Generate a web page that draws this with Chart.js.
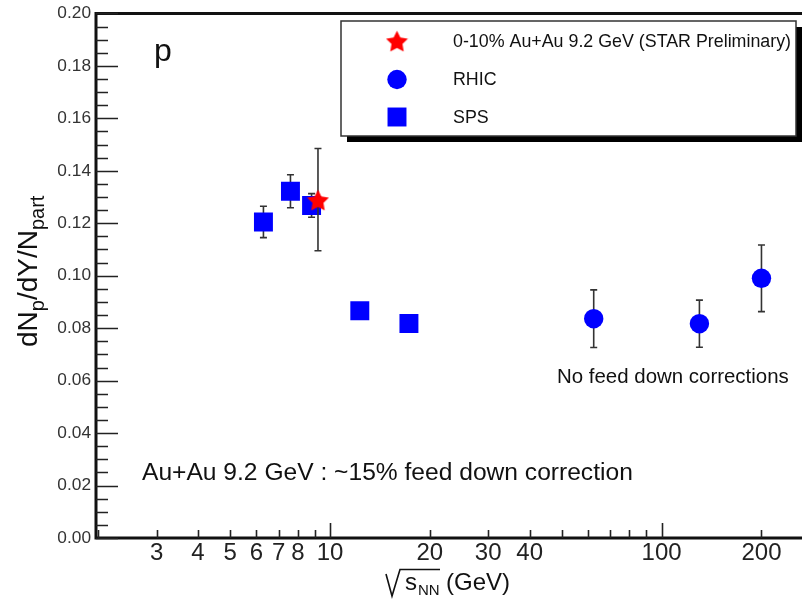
<!DOCTYPE html>
<html><head><meta charset="utf-8">
<script src="https://cdn.jsdelivr.net/npm/chart.js@4/dist/chart.umd.min.js"></script>
<style>html,body{margin:0;padding:0;background:#fff;overflow:hidden}canvas{display:block}</style>
</head><body><canvas id="c" width="802" height="600"></canvas>
<script>
// ---- data ----
const starX = [9.2];
const starY = [0.129];
const starErr = [0.0195];
const rhicX = [62.4, 130, 200];
const rhicY = [0.0836, 0.0817, 0.099];
const rhicErr = [0.011, 0.009, 0.0127];
const spsX = [6.3, 7.6, 8.8, 12.3, 17.3];
const spsY = [0.1205, 0.1322, 0.1268, 0.0866, 0.0818];
const spsErr = [0.006, 0.0063, 0.0045, 0.003, 0.003];
const xTickLabels = [3, 4, 5, 6, 7, 8, 10, 20, 30, 40, 100, 200];
const xMinorTicks = [2, 3, 4, 5, 6, 7, 8, 9, 20, 30, 40, 50, 60, 70, 80, 90, 200];
const xMajorTicks = [10, 100];
const yTickLabels = [0, 0.02, 0.04, 0.06, 0.08, 0.10, 0.12, 0.14, 0.16, 0.18, 0.20];
const legendLabels = ["0-10% Au+Au 9.2 GeV (STAR Preliminary)", "RHIC", "SPS"];
const noteMain = "Au+Au 9.2 GeV : ~15% feed down correction";
const noteRhic = "No feed down corrections";
const particleLabel = "p";

const FONT = "'Liberation Sans', Arial, Helvetica, sans-serif";

function makeStar(size, color) {
  const c = document.createElement('canvas');
  c.width = size; c.height = size;
  const g = c.getContext('2d');
  const cx = size / 2, cy = size / 2 + 1.5, R = size / 2, r = R * 0.5;
  g.beginPath();
  for (let i = 0; i < 10; i++) {
    const a = -Math.PI / 2 + i * Math.PI / 5;
    const rr = (i % 2) ? r : R;
    g.lineTo(cx + rr * Math.cos(a), cy + rr * Math.sin(a));
  }
  g.closePath();
  g.fillStyle = color; g.fill();
  return c;
}
const starImg = makeStar(23, '#ff0000');

const toPts = (xs, ys) => xs.map((x, i) => ({x: x, y: ys[i]}));
const errs = [starErr, rhicErr, spsErr];

function fitFont(ctx, text, width, base) {
  ctx.font = base + 'px ' + FONT;
  const w = ctx.measureText(text).width;
  const size = base * width / w;
  ctx.font = size.toFixed(2) + 'px ' + FONT;
}

const areaFix = {
  id: 'areaFix',
  afterLayout(chart) {
    const a = chart.chartArea;
    a.right = chart.width; a.width = a.right - a.left;
    const x = chart.scales.x;
    x.right = chart.width; x.width = x.right - x.left;
    x.configure();
  }
};

const errPlugin = {
  id: 'errbars',
  beforeDatasetDraw(chart, args) {
    const ds = chart.data.datasets[args.index];
    const e = errs[args.index];
    const xs = chart.scales.x, ys = chart.scales.y;
    const ctx = chart.ctx;
    ctx.save();
    ctx.strokeStyle = '#333';
    ctx.lineWidth = 1.6;
    ds.data.forEach((p, i) => {
      const px = xs.getPixelForValue(p.x);
      const y1 = ys.getPixelForValue(p.y + e[i]);
      const y2 = ys.getPixelForValue(p.y - e[i]);
      ctx.beginPath();
      ctx.moveTo(px, y1); ctx.lineTo(px, y2);
      ctx.moveTo(px - 3.5, y1); ctx.lineTo(px + 3.5, y1);
      ctx.moveTo(px - 3.5, y2); ctx.lineTo(px + 3.5, y2);
      ctx.stroke();
    });
    ctx.restore();
  }
};

const decorPlugin = {
  id: 'decor',
  afterDraw(chart) {
    const ctx = chart.ctx;
    const a = chart.chartArea;
    const xs = chart.scales.x, ys = chart.scales.y;
    ctx.save();
    // frame
    ctx.strokeStyle = '#111';
    ctx.lineWidth = 3;
    ctx.beginPath();
    ctx.moveTo(a.left, a.top); ctx.lineTo(a.right, a.top);
    ctx.moveTo(a.left, a.top - 1.5); ctx.lineTo(a.left, a.bottom + 1.5);
    ctx.moveTo(a.left, a.bottom); ctx.lineTo(a.right, a.bottom);
    ctx.stroke();
    // y tick marks
    ctx.lineWidth = 1.6;
    ctx.strokeStyle = '#222';
    ctx.beginPath();
    for (let k = 0; k <= 40; k++) {
      const v = k * 0.005;
      const py = Math.round(ys.getPixelForValue(v)) + 0.5;
      const len = (k % 4 === 0) ? 22 : 12;
      ctx.moveTo(a.left, py); ctx.lineTo(a.left + len, py);
    }
    // x tick marks
    xMinorTicks.forEach(v => {
      const px = Math.round(xs.getPixelForValue(v)) + 0.5;
      if (px > a.left + 2 && px < a.right) { ctx.moveTo(px, a.bottom); ctx.lineTo(px, a.bottom - 8); }
    });
    xMajorTicks.forEach(v => {
      const px = Math.round(xs.getPixelForValue(v)) + 0.5;
      ctx.moveTo(px, a.bottom); ctx.lineTo(px, a.bottom - 15);
    });
    ctx.stroke();

    // legend box
    ctx.fillStyle = '#000';
    ctx.fillRect(347, 27, 455, 115);
    ctx.fillStyle = '#fff';
    ctx.fillRect(341, 21, 455, 115);
    ctx.strokeStyle = '#333';
    ctx.lineWidth = 1.5;
    ctx.strokeRect(341, 21, 455, 115);
    const rows = [40.7, 79.5, 117];
    const dsets = chart.data.datasets;
    dsets.forEach((d, i) => {
      if (d.pointStyle === 'circle' || d.pointStyle === 'rect') {
        ctx.fillStyle = d.backgroundColor;
        ctx.beginPath();
        if (d.pointStyle === 'circle') ctx.arc(397, rows[i], d.pointRadius, 0, Math.PI * 2);
        else { const s = d.pointRadius * Math.SQRT1_2; ctx.rect(397 - s, rows[i] - s, 2 * s, 2 * s); }
        ctx.fill();
      } else {
        Chart.helpers.drawPoint(ctx, { pointStyle: d.pointStyle, radius: d.pointRadius, rotation: 0, borderWidth: 0 }, 397, rows[i]);
      }
    });
    ctx.fillStyle = '#111';
    ctx.textBaseline = 'middle';
    ctx.textAlign = 'left';
    fitFont(ctx, legendLabels[0], 338, 18);
    legendLabels.forEach((t, i) => ctx.fillText(t, 453, rows[i] + 1));

    // annotations
    ctx.font = '32px ' + FONT;
    ctx.fillText(particleLabel, 154, 52);
    fitFont(ctx, noteMain, 491, 24);
    ctx.fillText(noteMain, 142, 473);
    fitFont(ctx, noteRhic, 232, 20);
    ctx.fillText(noteRhic, 557, 377);

    // y title
    ctx.save();
    ctx.translate(37, 347);
    ctx.rotate(-Math.PI / 2);
    ctx.textBaseline = 'alphabetic';
    let x = 0;
    const big = '28px ' + FONT, sub = '20px ' + FONT;
    const parts = [['dN', big, 0], ['p', sub, 7], ['/dY/N', big, 0], ['part', sub, 7]];
    parts.forEach(p => { ctx.font = p[1]; ctx.fillText(p[0], x, p[2]); x += ctx.measureText(p[0]).width; });
    ctx.restore();

    // x title
    ctx.textBaseline = 'alphabetic';
    ctx.font = '24px ' + FONT;
    ctx.fillText('s', 405, 590);
    ctx.font = '15px ' + FONT;
    ctx.fillText('NN', 418, 595);
    ctx.font = '24px ' + FONT;
    ctx.fillText('(GeV)', 446, 590);
    ctx.strokeStyle = '#111';
    ctx.lineWidth = 1.6;
    ctx.beginPath();
    ctx.moveTo(386, 574);
    ctx.lineTo(392, 596);
    ctx.lineTo(400, 569.5);
    ctx.lineTo(440, 569.5);
    ctx.stroke();
    ctx.restore();
  }
};

new Chart(document.getElementById('c'), {
  type: 'scatter',
  data: {
    datasets: [
      { label: legendLabels[0], data: toPts(starX, starY), pointStyle: starImg, pointRadius: 11,
        backgroundColor: '#ff0000', borderWidth: 0 },
      { label: legendLabels[1], data: toPts(rhicX, rhicY), pointStyle: 'circle', pointRadius: 9.7,
        backgroundColor: '#0000ff', borderColor: '#0000ff', borderWidth: 0 },
      { label: legendLabels[2], data: toPts(spsX, spsY), pointStyle: 'rect', pointRadius: 13.4,
        backgroundColor: '#0000ff', borderColor: '#0000ff', borderWidth: 0 }
    ]
  },
  options: {
    responsive: false,
    animation: false,
    devicePixelRatio: 1,
    layout: { padding: { top: 11, left: 0, right: 0, bottom: 0 } },
    plugins: { legend: { display: false }, tooltip: { enabled: false } },
    scales: {
      x: {
        type: 'logarithmic', min: 1.97, max: 265,
        grid: { display: false, drawTicks: false },
        border: { display: false },
        afterFit(s) { s.height = 62; s.paddingLeft = 0; s.paddingRight = 0; },
        afterBuildTicks(s) { s.ticks = xTickLabels.map(v => ({ value: v })); },
        ticks: {
          autoSkip: false, maxRotation: 0, minRotation: 0, padding: 1,
          color: '#222', font: { family: FONT, size: 24 },
          callback: (v) => String(v)
        }
      },
      y: {
        type: 'linear', min: 0, max: 0.2,
        grid: { display: false, drawTicks: false },
        border: { display: false },
        afterFit(s) { s.width = 96; s.paddingTop = 0; s.paddingBottom = 0; },
        afterBuildTicks(s) { s.ticks = yTickLabels.map(v => ({ value: v })); },
        ticks: {
          padding: 5, color: '#333', font: { family: FONT, size: 17.3 },
          callback: (v) => Number(v).toFixed(2)
        }
      }
    }
  },
  plugins: [areaFix, errPlugin, decorPlugin]
});
</script>
</body></html>
